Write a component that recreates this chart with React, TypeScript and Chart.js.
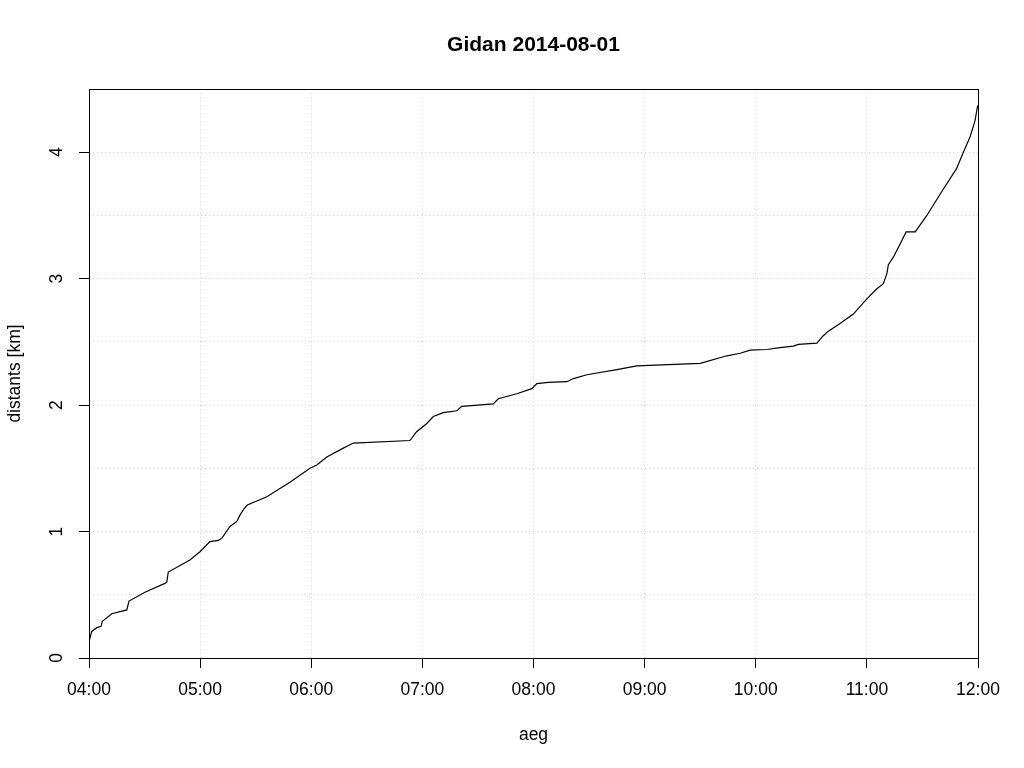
import React, { useEffect, useRef } from "react";
import { Chart, registerables } from "chart.js";

Chart.register(...registerables);

const TITLE = "Gidan 2014-08-01";
const X_TITLE = "aeg";
const Y_TITLE = "distants [km]";
const hourLabels = ["04:00", "05:00", "06:00", "07:00", "08:00", "09:00", "10:00", "11:00", "12:00"];
const kmLabels = [0, 1, 2, 3, 4];

// minutes after 04:00
const minutesAfter0400 = [
  0, 1.5, 4.2, 6.5, 7.2, 12.3, 20.4, 21.6, 30.2, 41.0, 42.0, 42.8, 54.5, 59.9, 65.3, 69.7,
  71.7, 76.1, 79.8, 81.5, 83.7, 85.5, 96.0, 108.5, 119.3, 123.0, 128.4, 137.3, 142.7, 173.3,
  176.9, 182.4, 185.9, 191.3, 198.6, 201.3, 218.3, 221.0, 231.0, 239.1, 241.8, 248.0, 258.0,
  261.6, 268.8, 285.0, 295.8, 330.0, 344.4, 351.6, 357.0, 366.0, 373.1, 380.3, 383.0, 393.0,
  396.2, 399.2, 405.5, 412.7, 420.0, 425.4, 428.9, 430.8, 431.6, 434.3, 437.6, 441.2, 446.1,
  452.4, 459.6, 468.4, 472.1, 475.7, 478.4, 479.7, 480,
];
const distanceKm = [
  0.13, 0.21, 0.24, 0.25, 0.29, 0.35, 0.38, 0.45, 0.52, 0.59, 0.6, 0.68, 0.775, 0.84, 0.92, 0.93,
  0.946, 1.04, 1.08, 1.13, 1.18, 1.21, 1.275, 1.39, 1.5, 1.526, 1.59, 1.66, 1.7, 1.72,
  1.79, 1.855, 1.91, 1.94, 1.955, 1.99, 2.01, 2.05, 2.09, 2.13, 2.17, 2.18, 2.185,
  2.21, 2.24, 2.28, 2.31, 2.33, 2.39, 2.41, 2.435, 2.44, 2.455, 2.466, 2.48, 2.49,
  2.545, 2.585, 2.645, 2.72, 2.84, 2.92, 2.96, 3.04, 3.11, 3.17, 3.265, 3.37, 3.37,
  3.5, 3.67, 3.87, 4.0, 4.12, 4.25, 4.36, 4.37,
];

const FONT = "'Liberation Sans', Arial, Helvetica, sans-serif";
const GRID = "#d3d3d3";

const rPlotPlugin = {
  id: "rPlot",
  afterDraw(chart: any) {
    const { ctx, chartArea: a, scales } = chart;
    ctx.save();
    ctx.strokeStyle = "#000";
    ctx.lineWidth = 1;
    ctx.setLineDash([]);
    ctx.strokeRect(
      Math.round(a.left) + 0.5,
      Math.round(a.top) + 0.5,
      Math.round(a.right - a.left),
      Math.round(a.bottom - a.top)
    );
    ctx.fillStyle = "#000";
    ctx.font = `17.5px ${FONT}`;
    ctx.textAlign = "center";
    ctx.textBaseline = "alphabetic";
    kmLabels.forEach((v) => {
      const py = scales.y.getPixelForValue(v);
      ctx.save();
      ctx.translate(a.left - 27, py);
      ctx.rotate(-Math.PI / 2);
      ctx.fillText(String(v), 0, 0);
      ctx.restore();
    });
    ctx.restore();
  },
};

export default function App() {
  const canvasRef = useRef<HTMLCanvasElement | null>(null);

  useEffect(() => {
    if (!canvasRef.current) return;
    const points = minutesAfter0400.map((m, i) => ({ x: m, y: distanceKm[i] }));
    const chart = new Chart(canvasRef.current, {
      type: "line",
      data: {
        datasets: [
          {
            data: points,
            borderColor: "#000",
            borderWidth: 1.2,
            pointRadius: 0,
            tension: 0,
            fill: false,
          },
        ],
      },
      options: {
        animation: false,
        responsive: false,
        devicePixelRatio: 1,
        layout: { padding: { left: 0, right: 46, top: 0, bottom: 0 } },
        plugins: {
          legend: { display: false },
          tooltip: { enabled: false },
          title: {
            display: true,
            fullSize: false,
            text: TITLE,
            color: "#000",
            font: { family: FONT, size: 21, weight: "bold", lineHeight: "26px" },
            padding: { top: 32, bottom: 31 },
          },
        },
        scales: {
          x: {
            type: "linear",
            min: 0,
            max: 480,
            afterFit: (s: any) => {
              s.height = 110;
            },
            ticks: {
              stepSize: 60,
              autoSkip: false,
              maxRotation: 0,
              minRotation: 0,
              padding: 12,
              color: "#000",
              font: { family: FONT, size: 17.5 },
              callback: (v: any) => hourLabels[Math.round(Number(v) / 60)] ?? "",
            },
            grid: {
              color: GRID,
              lineWidth: 1,
              borderDash: [1, 3],
              tickLength: 10,
              tickColor: "#000",
              tickBorderDash: [],
            } as any,
            border: { display: false, dash: [1, 3] },
            title: {
              display: true,
              text: X_TITLE,
              color: "#000",
              font: { family: FONT, size: 17.5, lineHeight: 1.2 },
              padding: { top: 0, bottom: 22 },
            },
          },
          y: {
            type: "linear",
            min: 0,
            max: 4.5,
            afterFit: (s: any) => {
              s.width = 89;
            },
            ticks: { stepSize: 0.5, display: false },
            grid: {
              color: GRID,
              lineWidth: 1,
              borderDash: [1, 3],
              tickLength: 10,
              tickColor: (c: any) =>
                c.tick && Number.isInteger(c.tick.value) ? "#000" : "rgba(0,0,0,0)",
              tickBorderDash: [],
            } as any,
            border: { display: false, dash: [1, 3] },
            title: {
              display: true,
              text: Y_TITLE,
              color: "#000",
              font: { family: FONT, size: 17.5, lineHeight: 1.2 },
              padding: { top: 5, bottom: 0 },
            },
          },
        },
      } as any,
      plugins: [rPlotPlugin],
    });
    return () => chart.destroy();
  }, []);

  return (
    <div style={{ position: "fixed", left: 0, top: 0, width: 1024, height: 768, background: "#fff" }}>
      <canvas ref={canvasRef} width={1024} height={768} style={{ display: "block" }} />
    </div>
  );
}
